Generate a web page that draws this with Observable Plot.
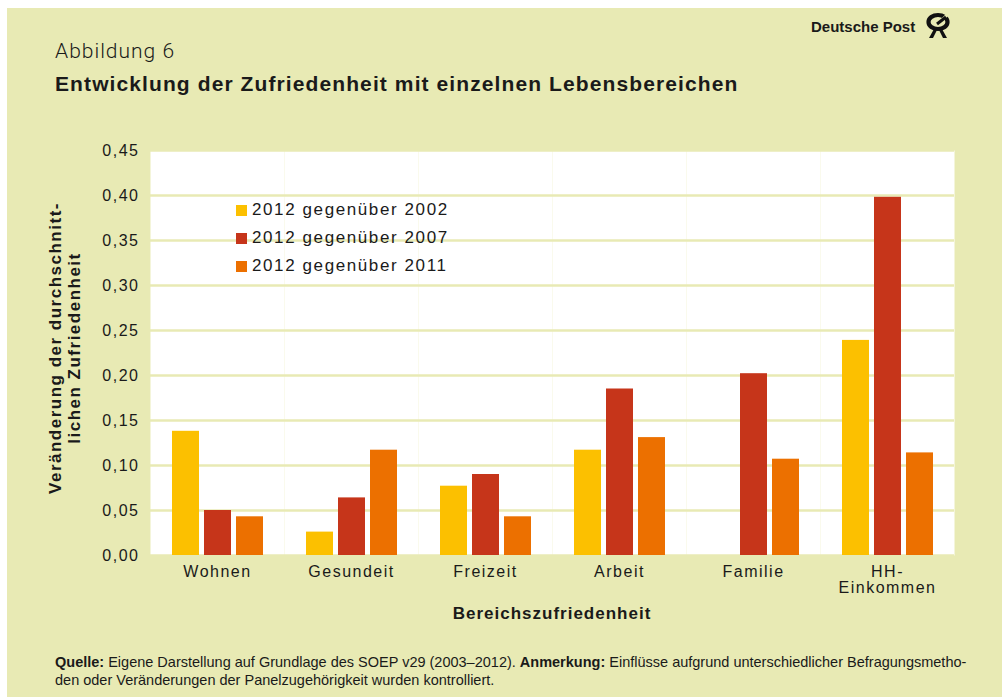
<!DOCTYPE html>
<html><head><meta charset="utf-8">
<script src="https://cdn.jsdelivr.net/npm/d3@7"></script>
<script src="https://cdn.jsdelivr.net/npm/@observablehq/plot@0.6"></script>
<style>
html,body{margin:0;padding:0;background:#fff;width:1002px;height:697px;overflow:hidden;font-family:"Liberation Sans",Arial,sans-serif;color:#1a1a1a;}
#bg{position:absolute;left:7px;top:8px;width:995px;height:689px;background:#e8eab4;}
#chart{position:absolute;left:0;top:0;}
.abs{position:absolute;white-space:nowrap;}
#abb{left:55px;top:39px;font-size:21px;font-weight:300;letter-spacing:1px;font-family:"Roboto","Liberation Sans",sans-serif;}
#title{left:55px;top:72px;font-size:21px;font-weight:bold;letter-spacing:1.1px;}
#logo{left:811px;top:18px;font-size:15px;font-weight:bold;}
#horn{left:924px;top:12px;}
#ylab{left:-134px;top:328px;width:400px;height:40px;line-height:19px;text-align:center;font-size:17px;font-weight:bold;letter-spacing:1.5px;transform:rotate(-90deg);transform-origin:50% 50%;}
#xlab{left:352px;top:604px;width:400px;text-align:center;font-size:17px;font-weight:bold;letter-spacing:1px;}
#legend{left:236px;top:196px;}
.li{height:28px;display:flex;align-items:center;font-size:17px;letter-spacing:1.6px;}
.sw{width:11px;height:11px;margin-right:5px;}
#foot{left:55px;top:653px;font-size:14.5px;line-height:18px;}
</style>
</head><body>
<div id="bg"></div>
<div id="chart"></div>
<div class="abs" id="abb">Abbildung 6</div>
<div class="abs" id="title">Entwicklung der Zufriedenheit mit einzelnen Lebensbereichen</div>
<div class="abs" id="logo">Deutsche Post</div>
<svg class="abs" id="horn" width="28" height="28" viewBox="0 0 28 28">
  <ellipse cx="14" cy="10" rx="9.5" ry="7" fill="none" stroke="#111" stroke-width="4.2"/>
  <path d="M14 12 L24 2" stroke="#e8eab4" stroke-width="3"/>
  <path d="M13 12 L22 5" stroke="#111" stroke-width="3"/>
  <path d="M10 17 L5 26 L9 26 L13 18 Z M18 17 L23 26 L19 26 L15 18 Z" fill="#111"/>
</svg>
<div class="abs" id="ylab">Veränderung der durchschnitt-<br>lichen Zufriedenheit</div>
<div class="abs" id="xlab">Bereichszufriedenheit</div>
<div class="abs" id="legend"></div>
<div class="abs" id="foot"><b>Quelle:</b> Eigene Darstellung auf Grundlage des SOEP v29 (2003–2012). <b>Anmerkung:</b> Einflüsse aufgrund unterschiedlicher Befragungsmetho-<br>den oder Veränderungen der Panelzugehörigkeit wurden kontrolliert.</div>
<script>
const categories = ["Wohnen", "Gesundeit", "Freizeit", "Arbeit", "Familie", "HH-Einkommen"];
const series = ["2012 gegenüber 2002", "2012 gegenüber 2007", "2012 gegenüber 2011"];
const v2002 = [0.138, 0.026, 0.077, 0.117, null, 0.239];
const v2007 = [0.050, 0.064, 0.090, 0.185, 0.202, 0.398];
const v2011 = [0.043, 0.117, 0.043, 0.131, 0.107, 0.114];
const yTicks = [0, 0.05, 0.10, 0.15, 0.20, 0.25, 0.30, 0.35, 0.40, 0.45];
const colors = ["#fcc000", "#c6351a", "#ec7000"];
const bgColor = "#e8eab4";

const valuesBySeries = [v2002, v2007, v2011];
const data = [];
categories.forEach((c, i) => series.forEach((s, j) => {
  const v = valuesBySeries[j][i];
  if (v != null) data.push({cat: c, series: s, value: v});
}));

const chart = Plot.plot({
  width: 1002, height: 640,
  marginTop: 150, marginBottom: 85, marginLeft: 150, marginRight: 48,
  style: {background: "transparent", fontFamily: "'Liberation Sans', Arial, sans-serif", fontSize: "16px", color: "#1a1a1a", letterSpacing: "1.5px"},
  fx: {domain: categories, padding: 0, label: null, axis: null},
  x: {domain: series, paddingInner: 0.16, paddingOuter: 0.67, axis: null},
  y: {domain: [0, 0.45], axis: null},
  color: {domain: series, range: colors},
  marks: [
    Plot.frame({fill: "white", stroke: "none"}),
    Plot.gridY(yTicks, {stroke: bgColor, strokeOpacity: 1, strokeWidth: 2.5}),
    Plot.barY(data, {fx: "cat", x: "series", y: "value", fill: "series"}),
    Plot.axisY(yTicks, {tickSize: 0, tickPadding: 11, label: null, tickFormat: d => d.toFixed(2).replace(".", ",")}),
    Plot.axisFx({anchor: "bottom", tickSize: 0, tickPadding: 10, label: null, tickFormat: d => d === "HH-Einkommen" ? "HH-\nEinkommen" : d})
  ]
});
document.getElementById("chart").appendChild(chart);

const legend = document.getElementById("legend");
series.forEach((s, j) => {
  const row = document.createElement("div");
  row.className = "li";
  const sw = document.createElement("div");
  sw.className = "sw";
  sw.style.background = colors[j];
  const t = document.createElement("span");
  t.textContent = s;
  row.appendChild(sw); row.appendChild(t);
  legend.appendChild(row);
});
</script>
</body></html>
